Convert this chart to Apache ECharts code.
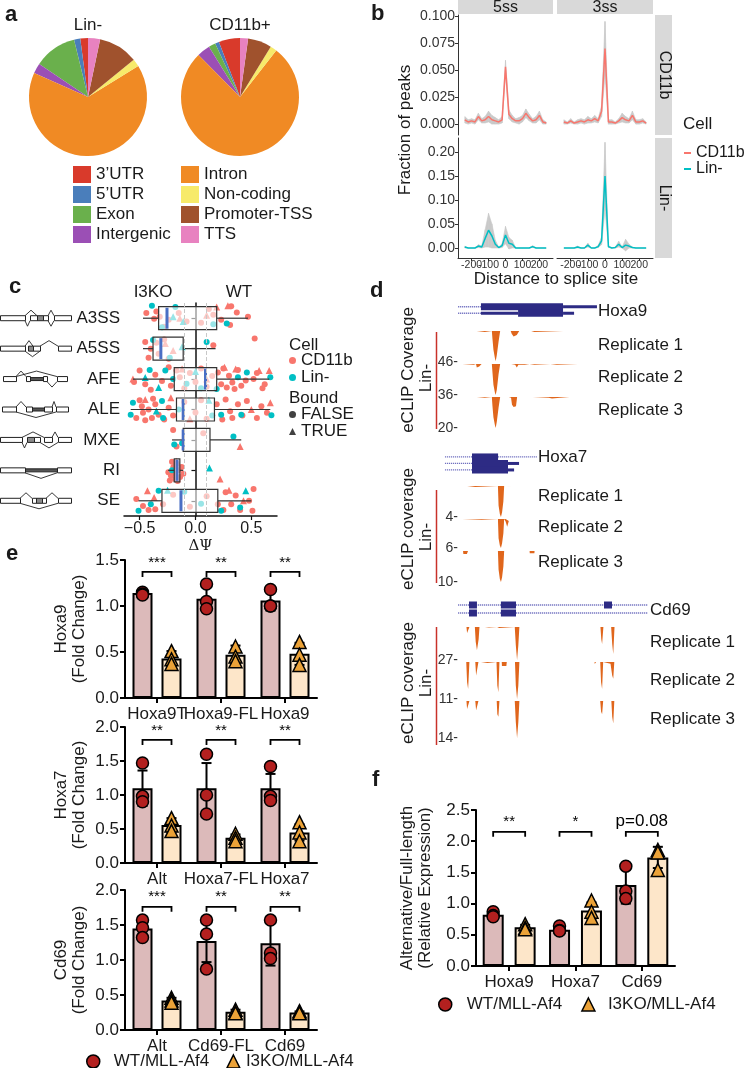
<!DOCTYPE html>
<html>
<head>
<meta charset="utf-8">
<title>eCLIP figure</title>
<script src="https://cdn.jsdelivr.net/npm/echarts@6.0.0/dist/echarts.min.js"></script>
<style>
  html, body { margin: 0; padding: 0; background: #fff; }
  #main { width: 750px; height: 1068px; }
</style>
</head>
<body>
<div id="main"></div>
<script>
// ---------- a: share of peaks per region (%) ----------
var regionNames = ['3\u2019UTR', '5\u2019UTR', 'Exon', 'Intergenic', 'Intron', 'Non-coding', 'Promoter-TSS', 'TTS'];
var linShare   = [2.1, 1.7, 11.7, 2.8, 65.4, 2.1, 10.8, 3.3];
var cd11bShare = [5.8, 1.1, 1.9, 3.6, 76.9, 1.8, 6.5, 2.2];

// ---------- b: fraction of peaks vs distance to splice site ----------
var distance     = [-240,-220,-200,-180,-160,-140,-120,-100,-80,-60,-40,-20,0,20,40,60,80,100,120,140,160,180,200,220,240];
var distTicks    = [-200, -100, 0, 100, 200];
var cd11b5ss     = [0.004,0.002,0.003,0.002,0.007,0.003,0.004,0.007,0.004,0.003,0.002,0.004,0.053,0.009,0.005,0.003,0.003,0.005,0.010,0.006,0.003,0.004,0.008,0.002,0.001];
var cd11b5ssBand = [0.003,0.002,0.002,0.002,0.003,0.002,0.003,0.005,0.004,0.003,0.002,0.003,0.006,0.004,0.003,0.002,0.003,0.003,0.004,0.003,0.002,0.003,0.004,0.002,0.001];
var cd11b3ss     = [0.002,0.001,0.003,0.001,0.002,0.003,0.002,0.004,0.003,0.005,0.003,0.012,0.070,0.002,0.002,0.001,0.003,0.006,0.004,0.003,0.008,0.002,0.002,0.003,0.001];
var cd11b3ssBand = [0.002,0.001,0.002,0.001,0.002,0.002,0.002,0.003,0.002,0.003,0.002,0.005,0.025,0.002,0.002,0.001,0.002,0.004,0.003,0.002,0.004,0.002,0.002,0.002,0.001];
var lin5ss       = [0.002,0.000,0.000,0.000,0.004,0.002,0.020,0.037,0.025,0.008,0.001,0.005,0.027,0.010,0.008,0.000,0.000,0.000,0.000,0.000,0.003,0.000,0.000,0.000,0.000];
var lin5ssBand   = [0.002,0.000,0.000,0.000,0.003,0.002,0.018,0.035,0.025,0.008,0.001,0.004,0.018,0.012,0.008,0.000,0.000,0.000,0.000,0.000,0.002,0.000,0.000,0.000,0.000];
var lin3ss       = [0.000,0.000,0.000,0.000,0.002,0.000,0.000,0.006,0.000,0.000,0.003,0.015,0.150,0.003,0.000,0.001,0.008,0.001,0.006,0.004,0.001,0.000,0.000,0.000,0.000];
var lin3ssBand   = [0.000,0.000,0.000,0.000,0.002,0.000,0.000,0.004,0.000,0.000,0.002,0.008,0.070,0.002,0.000,0.001,0.006,0.001,0.012,0.004,0.001,0.000,0.000,0.000,0.000];
var cd11bTicks   = [0, 0.025, 0.05, 0.075, 0.1];
var linTicks     = [0, 0.05, 0.1, 0.15, 0.2];

// ---------- c: delta PSI per event type ----------
var eventNames = ['A3SS', 'A5SS', 'AFE', 'ALE', 'MXE', 'RI', 'SE'];
var dpsiTicks  = [-0.5, 0, 0.5];
// [whisker low, Q1, median, Q3, whisker high]
var boxStats = [
  [-0.47, -0.33, -0.255, 0.19, 0.47],
  [-0.47, -0.38, -0.31, -0.11, 0.18],
  [-0.56, -0.19, 0.09, 0.19, 0.66],
  [-0.58, -0.17, -0.11, 0.17, 0.67],
  [-0.21, -0.11, -0.11, 0.13, 0.41],
  [-0.245, -0.19, -0.165, -0.14, -0.11],
  [-0.51, -0.30, -0.13, 0.20, 0.50]
];
// events: [dPSI, row jitter, group]  group 0 CD11b/FALSE, 1 Lin-/FALSE, 2 CD11b/TRUE, 3 Lin-/TRUE
var ptsA3SS = [[-0.44,-0.17,0],[-0.35,-0.22,0],[-0.37,0.02,0],[-0.32,-0.05,0],[-0.24,0.05,0],[-0.15,-0.17,0],[-0.08,0.11,0],[0.12,-0.30,0],[0.16,-0.11,0],[0.32,-0.39,0],[0.37,-0.19,0],[0.31,0.22,0],[0.47,-0.05,0],[0.23,0.05,0],[-0.28,0.28,0],[0.05,0.15,0],
  [-0.39,-0.41,1],[-0.18,-0.37,1],[0.28,0.17,1],[0.16,0.20,1],[-0.30,0.30,1],
  [0.29,-0.41,2],[0.19,-0.37,2],[-0.14,0.00,2],[0.10,-0.10,2],
  [-0.20,-0.05,3],[-0.11,0.11,3]];
var ptsA5SS = [[-0.45,-0.22,0],[-0.40,0.00,0],[-0.35,-0.19,0],[-0.33,0.17,0],[-0.24,0.33,0],[0.16,-0.11,0],[0.53,-0.33,0],[-0.28,-0.30,0],[-0.42,0.30,0],
  [-0.38,-0.28,1],[0.10,-0.22,1],[-0.23,0.30,1],
  [-0.20,0.06,2],[-0.27,-0.17,2],
  [-0.12,-0.06,3]];
var ptsAFE = [[-0.50,-0.28,0],[-0.45,0.17,0],[-0.36,-0.14,0],[-0.30,0.06,0],[-0.24,-0.39,0],[-0.22,0.22,0],[-0.17,-0.28,0],[-0.14,-0.06,0],[-0.10,0.30,0],[-0.05,-0.20,0],[0.00,0.10,0],[0.05,-0.35,0],[0.10,0.25,0],[0.15,-0.10,0],[0.20,-0.22,0],[0.23,0.17,0],[0.30,-0.11,0],[0.33,0.11,0],[0.41,0.22,0],[0.52,0.00,0],[0.62,0.17,0],[0.28,0.28,0],[0.38,-0.30,0],[0.45,0.05,0],[0.55,-0.20,0],[0.25,-0.35,0],[0.35,0.33,0],[-0.40,0.35,0],[-0.55,0.10,0],[0.60,0.30,0],
  [-0.41,-0.30,1],[-0.27,-0.28,1],[0.46,-0.22,1],[0.67,-0.06,1],[0.19,0.33,1],[0.38,-0.06,1],[-0.08,0.15,1],[-0.20,0.00,1],[0.05,0.30,1],
  [-0.56,0.00,2],[0.26,-0.39,2],[0.36,-0.33,2],[0.57,-0.28,2],[0.66,-0.28,2],[-0.12,-0.33,2],[0.10,0.00,2],
  [-0.33,0.28,3],[-0.45,-0.05,3],[0.00,-0.25,3]];
var ptsALE = [[-0.53,0.28,0],[-0.48,-0.11,0],[-0.47,0.11,0],[-0.42,0.00,0],[-0.39,0.28,0],[-0.36,-0.17,0],[-0.33,0.17,0],[-0.24,-0.06,0],[-0.28,0.33,0],[-0.45,0.35,0],[-0.50,-0.30,0],[-0.20,0.20,0],[-0.10,-0.25,0],[0.00,0.10,0],[0.05,-0.30,0],[0.10,0.30,0],[0.19,-0.17,0],[0.27,-0.33,0],[0.31,0.06,0],[0.33,0.28,0],[0.38,-0.17,0],[0.46,-0.28,0],[0.55,0.28,0],[0.59,-0.11,0],[0.64,0.11,0],[0.42,0.20,0],[0.24,0.33,0],[-0.38,-0.35,0],
  [-0.58,0.17,1],[-0.56,-0.22,1],[-0.30,-0.28,1],[-0.29,0.28,1],[0.23,0.17,1],[0.41,0.17,1],[0.68,0.19,1],[-0.15,0.00,1],[0.15,0.20,1],
  [-0.45,-0.33,2],[-0.22,-0.39,2],[0.50,0.00,2],[0.67,-0.22,2],[-0.05,0.30,2],
  [0.12,-0.30,3],[-0.35,0.05,3]];
var ptsMXE = [[-0.20,-0.33,0],[-0.17,0.22,0],[0.07,-0.22,0],
  [0.34,-0.11,1],[-0.12,0.11,1],[-0.19,0.15,1],
  [0.40,0.22,2]];
var ptsRI = [[-0.243,0.06,0],[-0.22,0.17,0],[-0.198,-0.11,0],[-0.183,0.28,0],[-0.168,-0.22,0],[-0.153,0.00,0],[-0.138,0.22,0],[-0.124,-0.11,0],[-0.109,0.11,0],[-0.21,-0.28,0],[-0.23,0.33,0],[-0.16,0.35,0],[-0.19,0.10,0],
  [-0.21,0.00,1],
  [0.22,0.28,2],[-0.17,-0.30,2],
  [0.125,-0.08,3]];
var ptsSE = [[-0.53,-0.06,0],[-0.47,0.17,0],[-0.36,0.28,0],[-0.29,0.11,0],[0.20,0.11,0],[0.27,-0.28,0],[0.32,0.11,0],[0.36,-0.17,0],[0.48,0.00,0],[0.52,-0.39,0],[0.51,0.33,0],[-0.42,0.30,0],[-0.20,-0.20,0],[-0.05,0.20,0],[0.10,-0.15,0],[0.25,0.30,0],[0.40,0.30,0],
  [-0.51,0.33,1],[-0.40,0.11,1],[-0.33,-0.33,1],[0.23,0.33,1],[0.40,0.22,1],[-0.10,-0.30,1],[0.05,0.10,1],
  [-0.43,-0.33,2],[-0.37,-0.11,2],[0.43,0.00,2],[0.30,-0.35,2],
  [0.45,-0.33,3],[-0.25,-0.35,3]];

// ---------- d: gene models [start, end, row, kind] kind 0 intron, 1 UTR, 2 CDS (relative locus position 0-100) ----------
var hoxa9Gene = [[11.3,25.6,0,0],[25.6,76.9,0,2],[76.9,98.1,0,1],[11.3,25.6,1,0],[25.6,48.8,1,1],[48.8,76.9,1,2],[76.9,83.8,1,1]];
var hoxa7Gene = [[3.1,20,0,0],[36.3,60.6,0,0],[20,36.3,0,2],[3.1,20,1,0],[20,42.5,1,2],[42.5,49.4,1,1],[3.1,20,2,0],[20,42.5,2,2],[42.5,46.3,2,1]];
var cd69Gene  = [[8.6,99,0,0],[8.6,99,1,0],[13.8,17.6,0,2],[29,36.2,0,2],[78.1,81.9,0,2],[13.8,17.6,1,2],[29,36.2,1,2]];
// eCLIP coverage tracks [position, reads]
var hoxa9Rep1 = [[22.9,0],[23,1.5],[28,1.5],[28.1,0],[32.4,0],[32.8,12],[33.4,28],[34.3,40],[34.8,45],[35.5,36],[36.6,16],[37.6,0],[44.2,0],[44.8,4],[46,8],[47,9],[48,6],[49.5,0],[57,0],[57.1,1.5],[59,1.5],[59.1,0],[77,0],[77.1,1.5],[80,1.5],[80.1,0]];
var hoxa9Rep2 = [[14,0],[14.1,0.8],[21,0.8],[21.1,0],[22.5,0],[23,4],[24.5,3],[26,0],[32.4,0],[32.8,10],[33.4,24],[34.3,33],[34.8,36],[35.5,30],[36.6,12],[37.6,0],[44.5,0],[44.6,0.8],[47,0.8],[48,4],[49,1],[53,0.8],[53.1,0],[56,0],[56.1,0.8],[59,0.8],[59.1,0],[69,0],[69.1,0.8],[73,0.8],[73.1,0],[86,0],[86.1,0.8],[89,0.8],[89.1,0]];
var hoxa9Rep3 = [[23,0],[23.1,0.5],[28,0.5],[28.1,0],[32.4,0],[32.8,6],[33.4,13],[34.3,18],[34.8,20],[35.5,16],[36.6,7],[37.6,0],[43,0],[43.1,0.5],[44.4,0.5],[45,5],[46,6.5],[47.5,6],[48.2,0],[58,0],[58.1,0.5],[68,0.5],[70,1],[75,0.5],[75.1,0],[81,0],[81.1,0.5],[85,0.5],[85.1,0]];
var hoxa7Rep1 = [[17,0],[17.1,0.12],[22,0.12],[22.1,0],[36.2,0],[36.6,2.5],[37.4,3.6],[38.1,4],[38.8,3.4],[39.6,2],[40.1,0],[42,0],[42.1,0.12],[45,0.12],[45.1,0]];
var hoxa7Rep2 = [[14,0],[14.1,0.15],[26,0.15],[26.1,0],[36.2,0],[36.6,4],[37.4,5.5],[38.1,6],[38.8,5],[39.6,3],[40.1,0],[40.6,0],[41,0.5],[42,1.6],[43,0.4],[43.8,0]];
var hoxa7Rep3 = [[14.4,0],[14.6,1],[15.6,1.6],[16.8,1],[17.5,0],[36.2,0],[36.6,6],[37.4,9],[38.1,10],[38.8,8.5],[39.6,5],[40.1,0],[56,0],[56.1,0.7],[59,0.7],[59.1,0]];
var cd69Rep1 = [[12.6,0],[12.9,5],[13.6,6],[14,0],[16.6,0],[17,12],[17.6,19],[18.4,10],[18.8,0],[21.4,0],[21.5,0.4],[23.3,0.4],[23.4,0],[27.2,0],[27.3,0.8],[28.2,0.8],[28.3,0],[35.6,0],[36.1,15],[36.7,27],[37.3,15],[37.8,0],[76.4,0],[76.8,10],[77.2,14],[77.8,0],[81.5,0],[82,14],[82.5,22],[83.1,0]];
var cd69Rep2 = [[9.2,0],[9.3,0.4],[9.8,0.4],[9.9,0],[12.5,0],[12.9,6],[13.4,8],[14,0],[16.8,0],[17.2,4],[17.7,4.5],[18.3,0],[19.5,0],[19.6,0.3],[22.6,0.3],[22.7,0],[26.9,0],[27.3,7],[27.8,9],[28.3,0],[29.4,0],[29.5,1.2],[31.6,1.2],[31.8,0],[35.7,0],[36.1,7],[36.7,11],[37.3,7],[37.8,0],[73.6,0],[73.7,0.6],[74.2,0.6],[74.3,0],[76.3,0],[76.7,6],[77.2,8],[77.7,0],[77.8,0],[77.9,0.5],[81.2,0.5],[81.3,0],[81.6,0],[82,4],[82.5,5],[83,0]];
var cd69Rep3 = [[9,0],[9.1,0.3],[9.6,0.3],[9.7,0],[12.6,0],[12.9,3],[13.4,3.5],[14,0],[16.8,0],[17.2,3.5],[17.7,4],[18.3,0],[27,0],[27.3,5],[27.8,6],[28.3,0],[35.6,0],[36.1,8],[36.7,14],[37.3,8],[37.8,0],[76.3,0],[76.7,4],[77.2,5],[77.7,0],[81.6,0],[82,6],[82.5,8.5],[83,0]];
var hoxa9Max = [46, 36, 20];
var hoxa7Max = [4, 6, 10];
var cd69Max  = [27, 11, 14];

// ---------- e: qPCR fold change ----------
var hoxa9Cats  = ['Hoxa9T', 'Hoxa9-FL', 'Hoxa9'];
var hoxa9WT    = [1.14, 1.08, 1.06];
var hoxa9WTsd  = [0.03, 0.13, 0.11];
var hoxa9KO    = [0.43, 0.47, 0.48];
var hoxa9KOsd  = [0.08, 0.10, 0.12];
var hoxa9WTpts = [[1.15, 1.13, 1.12], [1.24, 1.05, 0.97], [1.18, 1.00, 1.00]];
var hoxa9KOpts = [[0.51, 0.42, 0.37], [0.56, 0.45, 0.40], [0.61, 0.47, 0.36]];
var hoxa9Sig   = ['***', '**', '**'];

var hoxa7Cats  = ['Alt', 'Hoxa7-FL', 'Hoxa7'];
var hoxa7WT    = [1.10, 1.10, 1.10];
var hoxa7WTsd  = [0.26, 0.37, 0.21];
var hoxa7KO    = [0.56, 0.37, 0.45];
var hoxa7KOsd  = [0.10, 0.05, 0.12];
var hoxa7WTpts = [[1.47, 0.98, 0.90], [1.60, 1.00, 0.72], [1.42, 0.98, 0.92]];
var hoxa7KOpts = [[0.66, 0.55, 0.47], [0.43, 0.37, 0.32], [0.60, 0.45, 0.32]];
var hoxa7Sig   = ['**', '**', '**'];

var cd69Cats   = ['Alt', 'Cd69-FL', 'Cd69'];
var cd69WT     = [1.45, 1.27, 1.24];
var cd69WTsd   = [0.14, 0.30, 0.32];
var cd69KO     = [0.42, 0.26, 0.25];
var cd69KOsd   = [0.04, 0.03, 0.015];
var cd69WTpts  = [[1.57, 1.46, 1.32], [1.57, 1.37, 0.87], [1.57, 1.10, 1.02]];
var cd69KOpts  = [[0.46, 0.42, 0.39], [0.29, 0.25, 0.24], [0.27, 0.25, 0.24]];
var cd69Sig    = ['***', '**', '**'];

// ---------- f: alternative / full-length ratio ----------
var ratioCats  = ['Hoxa9', 'Hoxa7', 'Cd69'];
var ratioWT    = [0.82, 0.58, 1.30];
var ratioWTsd  = [0.04, 0.03, 0.30];
var ratioKO    = [0.62, 0.89, 1.74];
var ratioKOsd  = [0.04, 0.13, 0.17];
var ratioWTpts = [[0.87, 0.81, 0.79], [0.64, 0.57, 0.56], [1.60, 1.20, 1.08]];
var ratioKOpts = [[0.67, 0.61, 0.59], [1.05, 0.87, 0.77], [1.86, 1.82, 1.54]];
var ratioSig   = ['**', '*', 'p=0.08'];

// ======================================================================
var FONT = '"Liberation Sans", Arial, Helvetica, sans-serif';
var INK = '#1a1a1a';
var regionColors = ['#d93a2b', '#4a7ebb', '#6ab04c', '#9b4fb5', '#f08a24', '#f7ea6a', '#a0522d', '#e882c0'];
var CD11B_COL = '#F8766D', LIN_COL = '#00BFC4';
var RIBBON = '#c9c9c9';
var COV = '#e0661c';
var WT_FILL = '#dcbaba', KO_FILL = '#fde6c9', WT_DOT = '#b3201f', KO_DOT = '#eba238';

var grids = [], xAxes = [], yAxes = [], series = [], legends = [], graphics = [];

function addGrid(l, t, w, h) {
  grids.push({left: l, top: t, width: w, height: h, containLabel: false, outerBoundsMode: 'none'});
  return grids.length - 1;
}
function addX(o) { xAxes.push(o); return xAxes.length - 1; }
function addY(o) { yAxes.push(o); return yAxes.length - 1; }
function text(x, y, s, size, opt) {
  opt = opt || {};
  graphics.push({type: 'text', x: x, y: y, rotation: opt.rot || 0, silent: true, z: 50,
    style: {text: s, fill: opt.color || INK, font: (opt.bold ? 'bold ' : '') + size + 'px ' + (opt.family || FONT),
      align: opt.align || 'left', verticalAlign: 'middle'}});
}

// panel letters
text(5, 15, 'a', 22, {bold: true});
text(371, 14, 'b', 22, {bold: true});
text(9, 287, 'c', 22, {bold: true});
text(370, 291, 'd', 22, {bold: true});
text(6, 554, 'e', 22, {bold: true});
text(372, 780, 'f', 22, {bold: true});

// ---------------- a ----------------
function pieSeries(cx, share) {
  return {type: 'pie', center: [cx, 97], radius: 59, startAngle: 90, clockwise: false, silent: true,
    label: {show: false}, labelLine: {show: false}, emphasis: {disabled: true}, itemStyle: {borderWidth: 0},
    data: regionNames.map(function (n, i) { return {name: n, value: share[i], itemStyle: {color: regionColors[i]}}; })};
}
series.push(pieSeries(88, linShare));
series.push(pieSeries(240, cd11bShare));
text(88, 25, 'Lin-', 17, {align: 'center'});
text(240, 25, 'CD11b+', 17, {align: 'center'});
[0, 1].forEach(function (c) {
  legends.push({left: c === 0 ? 73 : 181, top: 166, orient: 'vertical', padding: 0, icon: 'rect',
    itemWidth: 18, itemHeight: 17, itemGap: 3, selectedMode: false,
    textStyle: {fontSize: 17, fontFamily: FONT, color: INK},
    data: regionNames.slice(c * 4, c * 4 + 4)});
});

// ---------------- b ----------------
var bColLeft = [458, 557], bColW = [95, 96];
var bRowTop = [15, 138];
var bYmin = [-0.0101, -0.0208], bYmax = [0.101, 0.229];
var bData = [[cd11b5ss, cd11b5ssBand], [cd11b3ss, cd11b3ssBand], [lin5ss, lin5ssBand], [lin3ss, lin3ssBand]];
var fmt3 = function (v) { return v.toFixed(3); };
var fmt2 = function (v) { return v.toFixed(2); };
function renderRibbon(params, api) {
  var a = api.coord([api.value(0), api.value(1)]), b = api.coord([api.value(3), api.value(4)]);
  var c2 = api.coord([api.value(3), api.value(5)]), d = api.coord([api.value(0), api.value(2)]);
  return {type: 'polygon', shape: {points: [a, b, c2, d]}, style: {fill: RIBBON, stroke: RIBBON, lineWidth: 0.6}};
}
function distAxis(g, show, ticks, withLine) {
  return {type: 'value', gridIndex: g, position: 'bottom', min: -280, max: 280, splitLine: {show: false},
    axisLine: {show: show && withLine, onZero: false, lineStyle: {color: '#333', width: 1}},
    axisTick: {show: show, customValues: ticks, length: 3, lineStyle: {color: '#333'}},
    axisLabel: {show: show, customValues: ticks, fontSize: 10.5, color: '#333', margin: 2, fontFamily: FONT,
      hideOverlap: false, showMinLabel: true, showMaxLabel: true}};
}
for (var k = 0; k < 4; k++) {
  var r = k >> 1, c = k & 1;
  var g = addGrid(bColLeft[c], bRowTop[r], bColW[c], 120);
  // the tick labels sit close together, so they are split over two overlaid axes
  var xi = addX(distAxis(g, r === 1, [distTicks[0], distTicks[2], distTicks[4]], true));
  addX(distAxis(g, r === 1, [distTicks[1], distTicks[3]], false));
  var yi = addY({type: 'value', gridIndex: g, min: bYmin[r], max: bYmax[r], splitLine: {show: false},
    axisLine: {show: c === 0, onZero: false, lineStyle: {color: '#333', width: 1}},
    axisTick: {show: c === 0, customValues: r === 0 ? cd11bTicks : linTicks, length: 3, lineStyle: {color: '#333'}},
    axisLabel: {show: c === 0, customValues: r === 0 ? cd11bTicks : linTicks, formatter: r === 0 ? fmt3 : fmt2,
      fontSize: 14, color: '#333', margin: 3, fontFamily: FONT, showMinLabel: true, showMaxLabel: true}});
  var mean = bData[k][0], band = bData[k][1];
  var col = r === 0 ? CD11B_COL : LIN_COL;
  series.push({type: 'custom', xAxisIndex: xi, yAxisIndex: yi, silent: true, z: 1, renderItem: renderRibbon,
    encode: {x: [0, 3], y: [1, 2, 4, 5]},
    data: distance.slice(0, -1).map(function (d, i) {
      return [d, mean[i] - band[i], mean[i] + band[i], distance[i + 1], mean[i + 1] - band[i + 1], mean[i + 1] + band[i + 1]];
    })});
  series.push({type: 'line', name: r === 0 ? 'CD11b' : 'Lin-', xAxisIndex: xi, yAxisIndex: yi, symbol: 'none', silent: true, z: 2,
    lineStyle: {color: col, width: 1.5}, itemStyle: {color: col},
    data: distance.map(function (d, i) { return [d, mean[i]]; })});
}
// strips
graphics.push({type: 'rect', shape: {x: 458, y: 0, width: 95, height: 14}, style: {fill: '#d9d9d9'}, silent: true});
graphics.push({type: 'rect', shape: {x: 557, y: 0, width: 96, height: 14}, style: {fill: '#d9d9d9'}, silent: true});
graphics.push({type: 'rect', shape: {x: 655, y: 15, width: 17, height: 120}, style: {fill: '#d9d9d9'}, silent: true});
graphics.push({type: 'rect', shape: {x: 655, y: 138, width: 17, height: 120}, style: {fill: '#d9d9d9'}, silent: true});
text(505.5, 8, '5ss', 16, {align: 'center'});
text(605, 8, '3ss', 16, {align: 'center'});
text(664, 75, 'CD11b', 16, {align: 'center', rot: -Math.PI / 2});
text(664, 198, 'Lin-', 16, {align: 'center', rot: -Math.PI / 2});
text(405, 130, 'Fraction of peaks', 17, {align: 'center', rot: Math.PI / 2});
text(556, 279, 'Distance to splice site', 17, {align: 'center'});
text(683, 124, 'Cell', 17);
legends.push({left: 684, top: 145, orient: 'vertical', padding: 0, itemGap: 0, itemWidth: 7, itemHeight: 2,
  selectedMode: false, textStyle: {fontSize: 16, fontFamily: FONT, color: INK, lineHeight: 13},
  data: [{name: 'CD11b', icon: 'rect', itemStyle: {color: CD11B_COL}}, {name: 'Lin-', icon: 'rect', itemStyle: {color: LIN_COL}}]});

// ---------------- c ----------------
var cg = addGrid(124, 303, 153, 213);
var cx = addX({type: 'value', gridIndex: cg, min: -0.64, max: 0.73, splitLine: {show: false},
  axisLine: {show: true, onZero: false, lineStyle: {color: '#111', width: 1.5}},
  axisTick: {show: true, customValues: dpsiTicks, length: 4, lineStyle: {color: '#111', width: 1.2}},
  axisLabel: {customValues: dpsiTicks, fontSize: 16, color: INK, margin: 5, fontFamily: FONT, showMinLabel: true, showMaxLabel: true,
    formatter: function (v) { return (v < 0 ? '\u2212' : '') + Math.abs(v).toFixed(1); }},
  name: '\u0394\u03A8', nameLocation: 'middle', nameGap: 23,
  nameTextStyle: {fontFamily: '"DejaVu Serif", serif', fontSize: 15, color: INK}});
var cy0 = addY({type: 'category', gridIndex: cg, data: eventNames, inverse: true,
  axisLine: {show: true, lineStyle: {color: '#111', width: 1.5}},
  axisTick: {show: true, alignWithLabel: true, length: 4, lineStyle: {color: '#111', width: 1.2}},
  axisLabel: {fontSize: 17, color: INK, margin: 4, fontFamily: FONT}});
var cy1 = addY({type: 'value', gridIndex: cg, min: -0.5, max: 6.5, inverse: true, show: false});

var cGroups = [
  {name: 'CD11b FALSE', color: CD11B_COL, symbol: 'circle', size: 6},
  {name: 'Lin- FALSE', color: LIN_COL, symbol: 'circle', size: 6},
  {name: 'CD11b TRUE', color: CD11B_COL, symbol: 'triangle', size: 7},
  {name: 'Lin- TRUE', color: LIN_COL, symbol: 'triangle', size: 7}
];
var cPts = [[], [], [], []];
[ptsA3SS, ptsA5SS, ptsAFE, ptsALE, ptsMXE, ptsRI, ptsSE].forEach(function (list, row) {
  list.forEach(function (p) { cPts[p[2]].push([p[0], row + p[1]]); });
});
cGroups.forEach(function (gr, i) {
  var s = {type: 'scatter', name: gr.name, xAxisIndex: cx, yAxisIndex: cy1, silent: true, z: 1,
    symbol: gr.symbol, symbolSize: gr.size, itemStyle: {color: gr.color, opacity: 1}, data: cPts[i]};
  if (i === 0) {
    s.markLine = {silent: true, symbol: ['none', 'none'], label: {show: false},
      lineStyle: {type: 'dashed', color: '#c8c8c8', width: 1}, data: [{xAxis: -0.1}, {xAxis: 0.1}]};
  }
  series.push(s);
});
series.push({type: 'custom', xAxisIndex: cx, yAxisIndex: cy1, silent: true, z: 3,
  encode: {x: [1, 2, 3, 4, 5], y: 0},
  data: boxStats.map(function (b, i) { return [i].concat(b); }),
  renderItem: function (params, api) {
    var row = api.value(0);
    var lo = api.coord([api.value(1), row]), q1 = api.coord([api.value(2), row]), md = api.coord([api.value(3), row]),
        q3 = api.coord([api.value(4), row]), hi = api.coord([api.value(5), row]);
    var y = lo[1], hh = 11.5;
    return {type: 'group', children: [
      {type: 'line', shape: {x1: lo[0], y1: y, x2: q1[0], y2: y}, style: {stroke: '#333', lineWidth: 1.2}},
      {type: 'line', shape: {x1: q3[0], y1: y, x2: hi[0], y2: y}, style: {stroke: '#333', lineWidth: 1.2}},
      {type: 'rect', shape: {x: q1[0], y: y - hh, width: q3[0] - q1[0], height: 2 * hh},
        style: {fill: 'rgba(255,255,255,0.6)', stroke: '#333', lineWidth: 1.2}},
      {type: 'line', shape: {x1: md[0], y1: y - hh + 1, x2: md[0], y2: y + hh - 1}, style: {stroke: '#4a6fc4', lineWidth: 3}}
    ]};
  }});
series.push({type: 'scatter', name: 'FALSE', xAxisIndex: cx, yAxisIndex: cy1, data: []});
series.push({type: 'scatter', name: 'TRUE', xAxisIndex: cx, yAxisIndex: cy1, data: []});
text(153, 292, 'I3KO', 17, {align: 'center'});
text(239, 292, 'WT', 17, {align: 'center'});
text(289, 345, 'Cell', 17);
text(289, 398, 'Bound', 17);
legends.push({left: 289, top: 352, orient: 'vertical', padding: 0, itemGap: 0, itemWidth: 7, itemHeight: 7,
  selectedMode: false, textStyle: {fontSize: 17, fontFamily: FONT, color: INK},
  data: [{name: 'CD11b', icon: 'circle', itemStyle: {color: CD11B_COL}}, {name: 'Lin-', icon: 'circle', itemStyle: {color: LIN_COL}}]});
legends.push({left: 289, top: 406, orient: 'vertical', padding: 0, itemGap: 0, itemWidth: 7, itemHeight: 7,
  selectedMode: false, textStyle: {fontSize: 17, fontFamily: FONT, color: INK},
  data: [{name: 'FALSE', icon: 'circle', itemStyle: {color: '#111'}}, {name: 'TRUE', icon: 'triangle', itemStyle: {color: '#111'}}]});

// splice event icons (decoration)
var iconDefs = [
  {rects: [[0,25,0],[30,37,0],[37,43,1],[43,48,0],[54,71,0]], arcs: [[25,37,-1],[48,54,-1],[25,30,1],[48,54,1]]},
  {rects: [[0,25,0],[28,33,1],[33,40,0],[58,71,0]], arcs: [[25,33,-1],[25,40,1],[40,58,-1]]},
  {rects: [[3,16,0],[26,30,0],[30,43,2],[43,47,0],[57,67,0]], arcs: [[16,57,-1],[16,26,-1],[47,57,1]]},
  {rects: [[2,16,0],[26,32,0],[32,44,2],[44,52,0],[56,68,0]], arcs: [[16,26,-1],[16,56,1],[52,56,-1]]},
  {rects: [[0,22,0],[27,34,1],[34,40,0],[44,52,0],[58,71,0]], arcs: [[22,44,-1],[52,58,-1],[22,27,1],[40,58,1]]},
  {rects: [[0,25,0],[25,57,2],[57,71,0]], arcs: [[25,57,1]]},
  {rects: [[0,20,0],[32,36,0],[36,42,1],[42,46,0],[58,71,0]], arcs: [[20,32,-1],[46,58,-1],[20,58,1]]}
];
iconDefs.forEach(function (ic, i) {
  var yc = 303 + 213 / 7 * (i + 0.5);
  ic.arcs.forEach(function (a) {
    graphics.push({type: 'polyline', silent: true, shape: {points: [[a[0], yc + a[2] * 2.5], [(a[0] + a[1]) / 2, yc + a[2] * 8], [a[1], yc + a[2] * 2.5]]},
      style: {stroke: '#222', lineWidth: 0.9, fill: 'none'}});
  });
  ic.rects.forEach(function (q) {
    var h = q[2] === 2 ? 3 : 5;
    graphics.push({type: 'rect', silent: true, shape: {x: q[0] + 0.5, y: yc - h / 2, width: q[1] - q[0], height: h},
      style: {fill: q[2] === 0 ? '#fff' : (q[2] === 1 ? '#8a8a8a' : '#555'), stroke: '#222', lineWidth: 1}});
  });
});

// ---------------- d ----------------
function renderGene(params, api) {
  var a = api.coord([api.value(0), api.value(2)]), b = api.coord([api.value(1), api.value(2)]);
  var kind = api.value(3);
  if (kind === 0) {
    return {type: 'line', shape: {x1: a[0], y1: a[1], x2: b[0], y2: b[1]}, style: {stroke: '#7070c0', lineWidth: 1.3, lineDash: [1.2, 0.8]}};
  }
  var h = kind === 2 ? 7 : 3;
  return {type: 'rect', shape: {x: a[0], y: a[1] - h / 2, width: b[0] - a[0], height: h}, style: {fill: '#2d2b84'}};
}
function locus(cfg) {
  var gg = addGrid(440, cfg.geneTop, cfg.width, cfg.geneH);
  var gx = addX({type: 'value', gridIndex: gg, min: 0, max: 100, show: false});
  var gy = addY({type: 'value', gridIndex: gg, min: -0.5, max: cfg.rows - 0.5, inverse: true, show: false});
  series.push({type: 'custom', xAxisIndex: gx, yAxisIndex: gy, silent: true, renderItem: renderGene,
    encode: {x: [0, 1], y: 2}, data: cfg.gene});
  cfg.tracks.forEach(function (tr, i) {
    var tg = addGrid(440, cfg.trackTop[i], cfg.width, cfg.trackH[i]);
    var tx = addX({type: 'value', gridIndex: tg, min: 0, max: 100, show: false});
    var ty = addY({type: 'value', gridIndex: tg, min: 0, max: cfg.max[i], inverse: true, offset: -18,
      axisLine: {show: false}, axisTick: {show: false}, splitLine: {show: false},
      axisLabel: {customValues: [cfg.max[i]], formatter: '{value}-', fontSize: 14, color: '#333', margin: 0, fontFamily: FONT,
        showMinLabel: true, showMaxLabel: true}});
    series.push({type: 'line', xAxisIndex: tx, yAxisIndex: ty, data: tr, symbol: 'none', silent: true,
      lineStyle: {width: 0}, areaStyle: {color: COV, opacity: 1}});
    text(cfg.labelX, cfg.repY[i], 'Replicate ' + (i + 1), 17);
  });
  text(cfg.labelX, cfg.nameY, cfg.name, 17);
  graphics.push({type: 'line', silent: true, shape: {x1: 436.5, y1: cfg.redLine[0], x2: 436.5, y2: cfg.redLine[1]},
    style: {stroke: '#c8312a', lineWidth: 1.5}});
  text(408, cfg.titleY, cfg.title, 17, {align: 'center', rot: Math.PI / 2});
  text(426, cfg.linY, 'Lin-', 17, {align: 'center', rot: Math.PI / 2});
}
locus({name: 'Hoxa9', gene: hoxa9Gene, rows: 2, geneTop: 303.5, geneH: 13, width: 160,
  tracks: [hoxa9Rep1, hoxa9Rep2, hoxa9Rep3], max: hoxa9Max, trackTop: [331, 364, 397], trackH: [31, 31, 31],
  labelX: 598, nameY: 311, repY: [345, 377, 410], redLine: [332, 429], title: 'eCLIP Coverage', titleY: 370, linY: 378});
locus({name: 'Hoxa7', gene: hoxa7Gene, rows: 3, geneTop: 453.7, geneH: 19.5, width: 160,
  tracks: [hoxa7Rep1, hoxa7Rep2, hoxa7Rep3], max: hoxa7Max, trackTop: [486, 519, 551], trackH: [31, 29, 31],
  labelX: 538, nameY: 457, repY: [496, 527, 562], redLine: [490, 583], title: 'eCLIP coverage', titleY: 529, linY: 537});
locus({name: 'Cd69', gene: cd69Gene, rows: 2, geneTop: 601, geneH: 16, width: 210,
  tracks: [cd69Rep1, cd69Rep2, cd69Rep3], max: cd69Max, trackTop: [627, 662, 701], trackH: [33, 37, 37],
  labelX: 650, nameY: 610, repY: [642, 680, 719], redLine: [627, 745], title: 'eCLIP coverage', titleY: 683, linY: 683});

// ---------------- e / f ----------------
function errorBar(dx) {
  return function (params, api) {
    var c = api.value(0), m = api.value(1), s = api.value(2);
    var t = api.coord([c, m + s]), b = api.coord([c, m - s]);
    var x = t[0] + dx, w = 5;
    return {type: 'group', children: [
      {type: 'line', shape: {x1: x, y1: t[1], x2: x, y2: b[1]}, style: {stroke: '#000', lineWidth: 2}},
      {type: 'line', shape: {x1: x - w, y1: t[1], x2: x + w, y2: t[1]}, style: {stroke: '#000', lineWidth: 2}},
      {type: 'line', shape: {x1: x - w, y1: b[1], x2: x + w, y2: b[1]}, style: {stroke: '#000', lineWidth: 2}}
    ]};
  };
}
function bracket(dx, labels) {
  return function (params, api) {
    var p = api.coord([api.value(0), api.value(1)]);
    var x1 = p[0] - dx, x2 = p[0] + dx, y = p[1];
    var lab = labels[params.dataIndex];
    var fs = lab.charAt(0) === '*' ? 15 : 17;
    return {type: 'group', children: [
      {type: 'polyline', shape: {points: [[x1, y + 5], [x1, y], [x2, y], [x2, y + 5]]}, style: {stroke: '#000', lineWidth: 1.8, fill: 'none'}},
      {type: 'text', x: p[0], y: y - 2, style: {text: lab, fill: '#000', font: fs + 'px ' + FONT, align: 'center', verticalAlign: 'bottom'}}
    ]};
  };
}
function flatPts(groups) {
  var out = [];
  groups.forEach(function (g, i) { g.forEach(function (v) { out.push([i, v]); }); });
  return out;
}
function barPanel(p) {
  var g = addGrid(p.left, p.top, p.width, p.height);
  var xi = addX({type: 'category', gridIndex: g, data: p.cats,
    axisLine: {show: true, lineStyle: {color: '#000', width: 2}},
    axisTick: {show: true, alignWithLabel: true, length: 5, lineStyle: {color: '#000', width: 2}},
    axisLabel: {interval: 0, fontSize: 17, color: INK, margin: 8, fontFamily: FONT}});
  var yi = addY({type: 'value', gridIndex: g, min: 0, max: p.ymax, interval: 0.5,
    axisLine: {show: true, lineStyle: {color: '#000', width: 2}},
    axisTick: {show: true, length: 5, lineStyle: {color: '#000', width: 2}},
    axisLabel: {fontSize: 17, color: INK, margin: 6, fontFamily: FONT, formatter: function (v) { return v.toFixed(1); }},
    splitLine: {show: false},
    name: p.yName, nameLocation: 'middle', nameRotate: 90, nameGap: p.nameGap,
    nameTextStyle: {fontSize: 17, color: INK, fontFamily: FONT, lineHeight: 18}});
  var off = p.off;
  series.push({type: 'bar', name: 'WT/MLL-Af4', xAxisIndex: xi, yAxisIndex: yi, data: p.wt, barWidth: p.barW, barGap: p.barGap,
    silent: true, z: 2, itemStyle: {color: WT_FILL, borderColor: '#000', borderWidth: 2}});
  series.push({type: 'bar', name: 'I3KO/MLL-Af4', xAxisIndex: xi, yAxisIndex: yi, data: p.ko, barWidth: p.barW, barGap: p.barGap,
    silent: true, z: 2, itemStyle: {color: KO_FILL, borderColor: '#000', borderWidth: 2}});
  series.push({type: 'custom', xAxisIndex: xi, yAxisIndex: yi, silent: true, z: 3, renderItem: errorBar(-off), encode: {x: 0, y: 1},
    data: p.wt.map(function (m, i) { return [i, m, p.wtSd[i]]; })});
  series.push({type: 'custom', xAxisIndex: xi, yAxisIndex: yi, silent: true, z: 3, renderItem: errorBar(off), encode: {x: 0, y: 1},
    data: p.ko.map(function (m, i) { return [i, m, p.koSd[i]]; })});
  series.push({type: 'scatter', name: 'WT/MLL-Af4', xAxisIndex: xi, yAxisIndex: yi, silent: true, z: 4,
    symbol: 'circle', symbolSize: 12, symbolOffset: [-off, 0],
    itemStyle: {color: WT_DOT, borderColor: '#000', borderWidth: 1.5, opacity: 1}, data: flatPts(p.wtPts)});
  series.push({type: 'scatter', name: 'I3KO/MLL-Af4', xAxisIndex: xi, yAxisIndex: yi, silent: true, z: 4,
    symbol: 'triangle', symbolSize: 13, symbolOffset: [off, 0],
    itemStyle: {color: KO_DOT, borderColor: '#000', borderWidth: 1.5, opacity: 1}, data: flatPts(p.koPts)});
  series.push({type: 'custom', xAxisIndex: xi, yAxisIndex: yi, silent: true, z: 5, renderItem: bracket(off, p.sig), encode: {x: 0, y: 1},
    data: p.sig.map(function (s, i) { return [i, p.sigY]; })});
}
barPanel({left: 125, top: 560, width: 192, height: 138, ymax: 1.5, cats: hoxa9Cats, wt: hoxa9WT, wtSd: hoxa9WTsd, ko: hoxa9KO, koSd: hoxa9KOsd,
  wtPts: hoxa9WTpts, koPts: hoxa9KOpts, sig: hoxa9Sig, sigY: 1.37, yName: 'Hoxa9\n(Fold Change)', nameGap: 37, barW: 20, barGap: '45%', off: 14.5});
barPanel({left: 125, top: 727, width: 192, height: 136, ymax: 2.0, cats: hoxa7Cats, wt: hoxa7WT, wtSd: hoxa7WTsd, ko: hoxa7KO, koSd: hoxa7KOsd,
  wtPts: hoxa7WTpts, koPts: hoxa7KOpts, sig: hoxa7Sig, sigY: 1.81, yName: 'Hoxa7\n(Fold Change)', nameGap: 37, barW: 20, barGap: '45%', off: 14.5});
barPanel({left: 125, top: 890, width: 192, height: 140, ymax: 2.0, cats: cd69Cats, wt: cd69WT, wtSd: cd69WTsd, ko: cd69KO, koSd: cd69KOsd,
  wtPts: cd69WTpts, koPts: cd69KOpts, sig: cd69Sig, sigY: 1.76, yName: 'Cd69\n(Fold Change)', nameGap: 37, barW: 20, barGap: '45%', off: 14.5});
barPanel({left: 476, top: 810, width: 199, height: 156, ymax: 2.5, cats: ratioCats, wt: ratioWT, wtSd: ratioWTsd, ko: ratioKO, koSd: ratioKOsd,
  wtPts: ratioWTpts, koPts: ratioKOpts, sig: ratioSig, sigY: 2.15, yName: 'Alternative/Full-length\n(Relative Expression)', nameGap: 42, barW: 21, barGap: '52%', off: 16});

function groupLegend(left, top, pads) {
  return {left: left, top: top, orient: 'horizontal', padding: 0, itemGap: pads[2], itemWidth: 13, itemHeight: 13, selectedMode: false,
    textStyle: {fontSize: 17, fontFamily: FONT, color: INK},
    data: [
      {name: 'WT/MLL-Af4', icon: 'circle', itemStyle: {color: WT_DOT, borderColor: '#000', borderWidth: 1.5}, textStyle: {padding: [0, 0, 0, pads[0]]}},
      {name: 'I3KO/MLL-Af4', icon: 'triangle', itemStyle: {color: KO_DOT, borderColor: '#000', borderWidth: 1.5}, textStyle: {padding: [0, 0, 0, pads[1]]}}
    ]};
}
legends.push(groupLegend(86, 1053, [9, 1, 17]));
legends.push(groupLegend(438, 996, [10, 8, 19]));

var option = {
  animation: false,
  backgroundColor: '#fff',
  textStyle: {fontFamily: FONT},
  tooltip: {show: false},
  grid: grids,
  xAxis: xAxes,
  yAxis: yAxes,
  legend: legends,
  series: series,
  graphic: {elements: graphics}
};
var chart = echarts.init(document.getElementById('main'));
chart.setOption(option);
</script>
</body>
</html>
